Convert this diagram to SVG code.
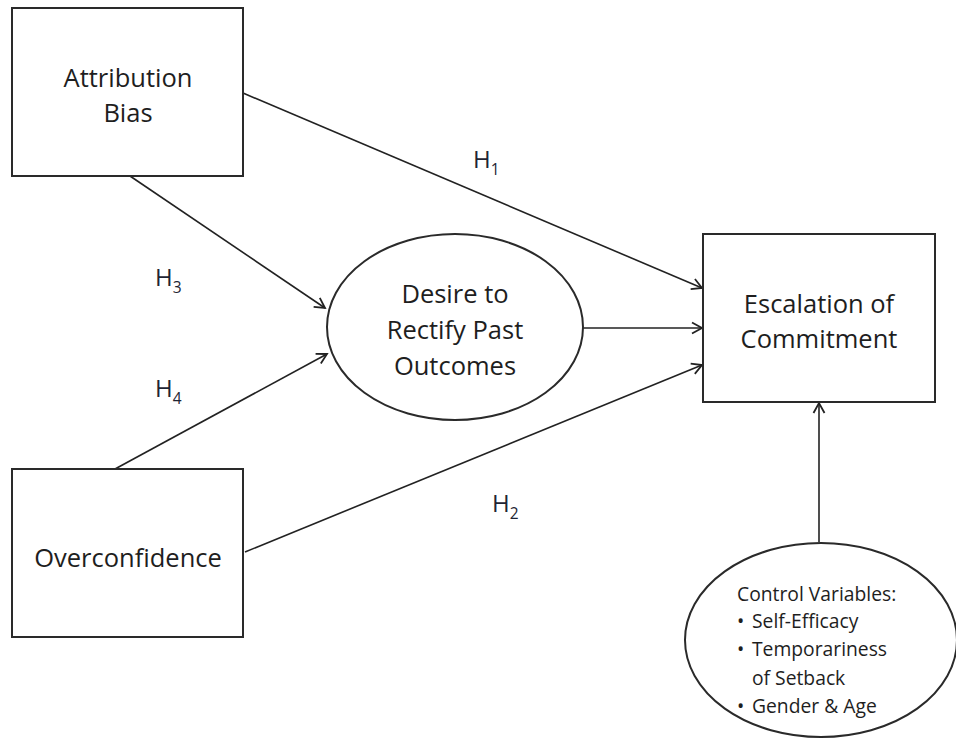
<svg xmlns="http://www.w3.org/2000/svg" width="956" height="743" viewBox="0 0 956 743">
  <style>
    .box { fill: #ffffff; stroke: #2a2a2a; stroke-width: 2; }
    .lbl { font-family: "Open Sans", "Liberation Sans", sans-serif; font-size: 25.5px; fill: #1e1e1e; text-anchor: middle; }
    .ctl { font-family: "Open Sans", "Liberation Sans", sans-serif; font-size: 19.3px; fill: #1e1e1e; }
    .hyp { font-family: "Open Sans", "Liberation Sans", sans-serif; font-size: 24px; fill: #1e2433; }
    .sub { font-size: 15.5px; }
    .edge { fill: none; stroke: #222222; stroke-width: 1.6; marker-end: url(#arrow); }
  </style>
  <defs>
    <marker id="arrow" markerUnits="userSpaceOnUse" markerWidth="14" markerHeight="14" viewBox="-12 -7 14 14" refX="0" refY="0" orient="auto">
      <path d="M-10,-5.5 L0,0 L-10,5.5" fill="none" stroke="#222222" stroke-width="1.8"/>
    </marker>
  </defs>
  <rect width="956" height="743" fill="#ffffff"/>

  <g id="connectors">
    <path class="edge" d="M243,93 L702,288"/>
    <path class="edge" d="M130,176 L325,308"/>
    <path class="edge" d="M115,469 L327,354"/>
    <path class="edge" d="M583,328 L702,328"/>
    <path class="edge" d="M245,552 L702,365"/>
    <path class="edge" d="M819,542 L819,403"/>
  </g>

  <g id="attribution-bias">
    <rect class="box" x="12" y="8" width="231" height="168"/>
    <text class="lbl" x="128" y="87">Attribution</text>
    <text class="lbl" x="128" y="122">Bias</text>
  </g>

  <g id="overconfidence">
    <rect class="box" x="12" y="469" width="231" height="168"/>
    <text class="lbl" x="128" y="567">Overconfidence</text>
  </g>

  <g id="desire">
    <ellipse class="box" cx="455" cy="327" rx="128" ry="93"/>
    <text class="lbl" x="455" y="303">Desire to</text>
    <text class="lbl" x="455" y="339">Rectify Past</text>
    <text class="lbl" x="455" y="375">Outcomes</text>
  </g>

  <g id="escalation">
    <rect class="box" x="703" y="234" width="232" height="168"/>
    <text class="lbl" x="819" y="313">Escalation of</text>
    <text class="lbl" x="819" y="348">Commitment</text>
  </g>

  <g id="control">
    <ellipse class="box" cx="821" cy="640" rx="136" ry="97"/>
    <text class="ctl" x="737" y="601">Control Variables:</text>
    <text class="ctl" x="737" y="628">•</text>
    <text class="ctl" x="752" y="628">Self-Efficacy</text>
    <text class="ctl" x="737" y="656">•</text>
    <text class="ctl" x="752" y="656">Temporariness</text>
    <text class="ctl" x="752" y="685">of Setback</text>
    <text class="ctl" x="737" y="713">•</text>
    <text class="ctl" x="752" y="713">Gender &amp; Age</text>
  </g>

  <g id="labels">
    <text class="hyp" x="473" y="168">H<tspan class="sub" dy="7">1</tspan></text>
    <text class="hyp" x="155" y="286">H<tspan class="sub" dy="7">3</tspan></text>
    <text class="hyp" x="155" y="397">H<tspan class="sub" dy="7">4</tspan></text>
    <text class="hyp" x="492" y="512">H<tspan class="sub" dy="7">2</tspan></text>
  </g>
</svg>
